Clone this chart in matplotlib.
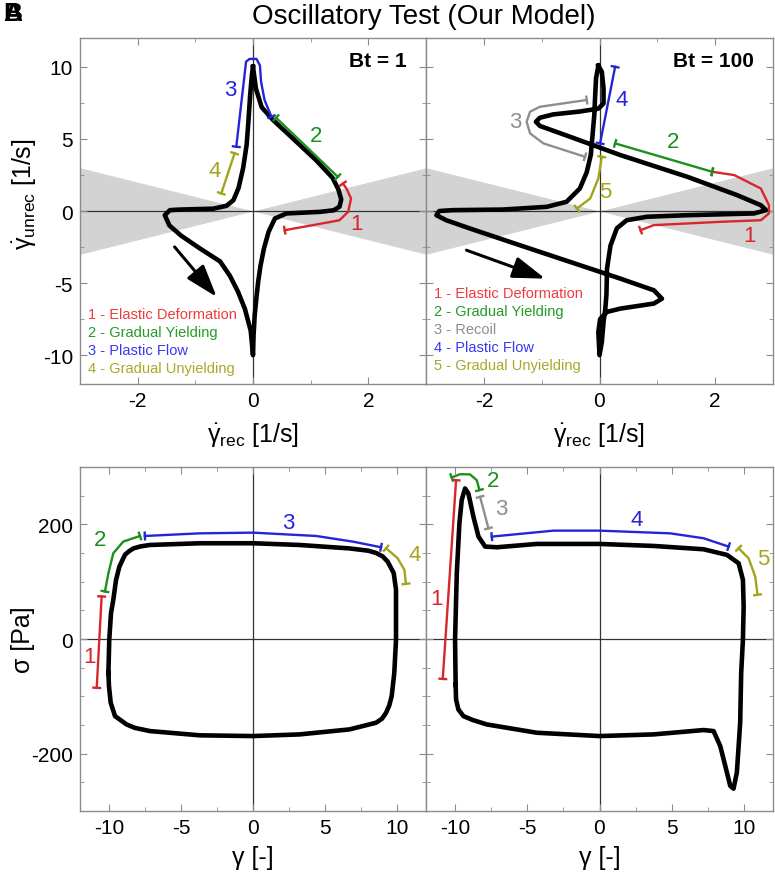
import numpy as np
import matplotlib.pyplot as plt
from matplotlib.ticker import MultipleLocator

plt.rcParams['font.family'] = ['Liberation Sans', 'DejaVu Sans']
plt.rcParams['mathtext.fontset'] = 'custom'
plt.rcParams['mathtext.rm'] = 'Liberation Sans'
plt.rcParams['mathtext.it'] = 'Liberation Sans:italic'
plt.rcParams['mathtext.bf'] = 'Liberation Sans:bold'
plt.rcParams['axes.unicode_minus'] = False

# ---- Lissajous curves (rate plane) ----
bt1_rec = [0.00, -0.02, -0.05, -0.08, -0.11, -0.17, -0.25, -0.34, -0.46, -0.69, -1.27, -1.44,
           -1.53, -1.45, -1.25, -0.92, -0.57, -0.40, -0.26, -0.14, -0.04, 0.00,
           0.01, 0.03, 0.06, 0.09, 0.13, 0.19, 0.27, 0.38, 0.58, 1.16, 1.40, 1.50,
           1.53, 1.48, 1.38, 1.10, 0.70, 0.35, 0.15, 0.05, 0.00]
bt1_unrec = [10.0, 9.4, 8.0, 6.2, 4.6, 3.0, 1.6, 0.75, 0.36, 0.16, 0.10, 0.06,
             -0.29, -1.0, -1.7, -2.6, -3.5, -4.5, -5.6, -6.8, -8.3, -10.0,
             -8.6, -7.2, -6.0, -4.9, -3.8, -2.6, -1.45, -0.52, -0.17, -0.06, 0.05, 0.3,
             0.8, 1.5, 2.3, 3.5, 5.0, 6.3, 7.2, 8.5, 10.0]

bt100_rec = [-0.02, -0.06, -0.075, -0.09, -0.12, -0.15, -0.22, -0.34, -0.57, -0.91, -1.67, -2.53, -2.77,
             -2.82, -2.65, -2.25, -1.38, -0.51, 0.36, 0.94, 1.08,
             0.94, 0.36, 0.13, 0.01, -0.02, 0.00,
             0.04, 0.07, 0.10, 0.12, 0.13, 0.19, 0.30, 0.47, 0.82, 1.52, 2.67, 2.88,
             2.79, 2.38, 1.52, 0.36, -0.51, -1.03, -1.10,
             -1.03, -0.80, -0.34, -0.02, 0.07, 0.07, 0.04, -0.02]
bt100_unrec = [10.08, 9.2, 8.0, 6.65, 5.27, 3.9, 2.7, 1.56, 0.64, 0.29, 0.10, 0.06, 0.0,
               -0.29, -0.64, -1.2, -2.37, -3.53, -4.69, -5.5, -6.08,
               -6.42, -6.77, -7.0, -7.5, -8.4, -10.0,
               -9.1, -7.7, -6.8, -5.8, -4.0, -2.4, -1.2, -0.64, -0.4, -0.29, -0.17, 0.06,
               0.4, 1.1, 2.37, 3.88, 5.15, 5.9, 6.19,
               6.47, 6.7, 6.9, 7.1, 7.46, 8.5, 9.66, 10.08]

# ---- stress-strain loops ----
bt1_strain = [-10.03, -9.97, -9.85, -9.69, -9.50, -9.27, -9.05, -8.88, -8.60, -8.30, -7.80, -7.15, -3.69, 0.0,
              3.23, 6.69, 8.00, 8.54, 9.00, 9.34, 9.76, 9.92, 9.92, 9.80, 9.62, 9.45, 9.23, 8.95, 8.54,
              6.69, 3.23, 0.0, -3.69, -7.15, -8.20, -8.77, -9.57, -9.87, -9.99, -10.03]
bt1_stress = [-59.1, -1.2, 45.2, 68.4, 103, 126, 138, 147, 153, 158, 161.5, 164, 167, 167,
              164, 158, 154, 150, 144, 135, 115, 86, -1.2, -59.1, -99.7, -116, -128.7, -139, -146,
              -157.7, -166.4, -169.3, -168, -160.6, -155, -149, -134.5, -111.3, -82.3, -59.1]

bt100_strain = [-9.95, -9.99, -9.87, -9.69, -9.53, -9.30, -9.07, -8.72, -8.37, -7.91, -7.10, -4.34, 0.0,
                3.74, 7.20, 8.81, 9.62, 9.92, 9.97, 9.92, 9.80, 9.73, 9.50, 9.27,
                9.04, 8.70, 8.35, 7.89, 7.20, 3.74, 0.0, -4.34, -7.80, -8.80, -9.41, -9.76, -9.92, -9.95]
bt100_stress = [-80, -1.2, 114.8, 201.7, 242.3, 262.6, 254, 213.3, 178.6, 161.2, 160, 165.8, 165.8,
                162.3, 156.5, 146.7, 132.2, 103.2, 56.8, -1.2, -59, -146, -233, -261,
                -256, -221.4, -186.7, -160.6, -158.8, -166.4, -169.3, -163.5, -149, -141, -134.5, -122.9, -105.5, -80]

# stage brackets: (x list, y list, label, label x, label y, colour key)
bt1_rate_marks = [
    ([0.55, 1.04, 1.50, 1.65, 1.70, 1.62, 1.56], [-1.33, -0.98, -0.64, -0.06, 0.87, 1.56, 1.90], '1', 1.79, -0.87, 'r'),
    ([0.40, 1.47], [6.47, 2.37], '2', 1.10, 5.27, 'g'),
    ([-0.29, -0.12, -0.06, 0.06, 0.12, 0.14, 0.20, 0.32], [4.46, 10.36, 10.55, 10.55, 10.1, 8.97, 7.7, 6.54], '3', -0.39, 8.4, 'b'),
    ([-0.32, -0.55], [4.0, 1.22], '4', -0.66, 2.84, 'y'),
]
bt100_rate_marks = [
    ([0.71, 0.94, 2.09, 2.79, 2.93, 2.93, 2.79, 2.33, 1.95], [-1.33, -0.98, -0.75, -0.64, -0.17, 0.4, 1.56, 2.49, 2.72], '1', 2.59, -1.68, 'r'),
    ([0.27, 1.95], [4.69, 2.72], '2', 1.28, 4.8, 'g'),
    ([-0.22, -1.03, -1.20, -1.26, -1.20, -0.97, -0.25], [7.7, 7.23, 6.89, 6.19, 5.38, 4.69, 3.76], '3', -1.46, 6.19, 'k'),
    ([0.01, 0.27], [4.69, 10.0], '4', 0.39, 7.7, 'b'),
    ([0.04, -0.02, -0.16, -0.39], [3.76, 2.26, 0.87, 0.17], '5', 0.10, 1.33, 'y'),
]
bt1_stress_marks = [
    ([-10.50, -10.84], [74.2, -85.2], '1', -11.35, -30, 'r'),
    ([-10.27, -10.03, -9.69, -9.0, -7.84], [82.9, 114.8, 149.6, 169.9, 179.7], '2', -10.61, 172.8, 'g'),
    ([-7.50, -3.69, 0.0, 4.38, 6.92, 8.88], [179.7, 184.3, 185.5, 179.7, 169.9, 160], '3', 2.42, 203, 'b'),
    ([9.23, 10.03, 10.50, 10.61], [158.3, 140.9, 120.6, 96.2], '4', 11.19, 146.7, 'y'),
]
bt100_stress_marks = [
    ([-10.84, -9.92], [-69.6, 277], '1', -11.26, 71.3, 'r'),
    ([-10.22, -9.64, -8.95, -8.49, -8.30], [281.7, 287.5, 287, 277, 259.7], '2', -7.34, 276, 'g'),
    ([-8.26, -7.68], [248, 193], '3', -6.76, 227.8, 'k'),
    ([-7.45, -3.18, 0.0, 4.89, 7.20, 8.93], [178.6, 189, 189, 184.3, 175.7, 161.2], '4', 2.58, 208.7, 'b'),
    ([9.62, 10.31, 10.77, 10.93], [158.3, 140.9, 109, 77.1], '5', 11.35, 140.9, 'y'),
]

legend_bt1 = [('1 - Elastic Deformation', 'r'), ('2 - Gradual Yielding', 'g'),
              ('3 - Plastic Flow', 'b'), ('4 - Gradual Unyielding', 'y')]
legend_bt100 = [('1 - Elastic Deformation', 'r'), ('2 - Gradual Yielding', 'g'), ('3 - Recoil', 'k'),
                ('4 - Plastic Flow', 'b'), ('5 - Gradual Unyielding', 'y')]

cone_x = [-3, 0, 3]

mark_col = {'r': '#d8262b', 'g': '#1c8f1c', 'b': '#2424d8', 'y': '#a3a31c', 'k': '#8e8e8e'}
text_col = {'r': '#ef3b3b', 'g': '#259a25', 'b': '#3838f2', 'y': '#a8a82a', 'k': '#8e8e8e'}

fig = plt.figure(figsize=(7.75, 8.79), dpi=100)
W, H = 775.0, 879.0
ax_tl = fig.add_axes([80 / W, 1 - 385 / H, 346 / W, 346 / H])
ax_tr = fig.add_axes([426 / W, 1 - 385 / H, 347 / W, 346 / H])
ax_bl = fig.add_axes([80 / W, 1 - 812 / H, 346 / W, 344 / H])
ax_br = fig.add_axes([426 / W, 1 - 812 / H, 347 / W, 344 / H])


def style(ax, xmaj, xmin, ymaj, ymin):
    for s in ax.spines.values():
        s.set_color('#8c8c8c')
        s.set_linewidth(1.0)
    ax.xaxis.set_major_locator(MultipleLocator(xmaj))
    ax.xaxis.set_minor_locator(MultipleLocator(xmin))
    ax.yaxis.set_major_locator(MultipleLocator(ymaj))
    ax.yaxis.set_minor_locator(MultipleLocator(ymin))
    ax.tick_params(which='both', direction='in', top=True, right=True, color='#8c8c8c',
                   labelsize=15, pad=5)
    ax.tick_params(which='major', length=5)
    ax.tick_params(which='minor', length=3)
    ax.axhline(0, color='#333333', lw=0.9, zorder=1)
    ax.axvline(0, color='#333333', lw=0.9, zorder=1)


def bracket(ax, xs, ys, color, half=4.5):
    ax.plot(xs, ys, color=color, lw=1.7, zorder=4, solid_joinstyle='round')
    pts = ax.transData.transform(np.column_stack([xs, ys]))
    inv = ax.transData.inverted()
    for i, j in [(0, 1), (-1, -2)]:
        p = pts[i]
        d = pts[j] - p
        d = d / np.hypot(d[0], d[1])
        n = np.array([-d[1], d[0]]) * half
        seg = inv.transform(np.array([p - n, p + n]))
        ax.plot(seg[:, 0], seg[:, 1], color=color, lw=1.7, zorder=4, solid_capstyle='butt')


rate_label = r'$\dot{\mathrm{\gamma}}_{\mathrm{%s}}$ [1/s]'

for ax, xs, ys, marks, leg, bt, arrow, legy in [
        (ax_tl, bt1_rec, bt1_unrec, bt1_rate_marks, legend_bt1, 'Bt = 1',
         ((-1.36, -2.49), (-0.63, -5.96)), -7.12),
        (ax_tr, bt100_rec, bt100_unrec, bt100_rate_marks, legend_bt100, 'Bt = 100',
         ((-2.30, -2.72), (-0.94, -4.69)), -5.66)]:
    ax.set_xlim(-3, 3)
    ax.set_ylim(-12, 12)
    style(ax, 2, 1, 5, 2.5)
    cx = np.array(cone_x, dtype=float)
    ax.fill_between(cx, -np.abs(cx), np.abs(cx), color='#d3d3d3', lw=0, zorder=0)
    ax.plot(xs, ys, color='black', lw=3.3, zorder=3, solid_joinstyle='round')
    for mx, my, lab, lx, ly, c in marks:
        bracket(ax, mx, my, mark_col[c])
        ax.text(lx, ly, lab, color=mark_col[c], fontsize=16, ha='center', va='center', zorder=5)
    for k, (t, c) in enumerate(leg):
        ax.text(-2.86, legy - 1.26 * k, t, color=text_col[c], fontsize=10.5, va='center', ha='left')
    ax.text(0.945, 0.935, bt, transform=ax.transAxes, fontsize=15, fontweight='bold',
            ha='right', va='center')
    ax.annotate('', xy=arrow[1], xytext=arrow[0],
                arrowprops=dict(arrowstyle='-|>,head_length=0.9,head_width=0.3',
                                mutation_scale=22, lw=2.2, color='black', shrinkA=0, shrinkB=0),
                zorder=4)
    ax.set_xlabel(rate_label % 'rec', fontsize=18, labelpad=7)

ax_tl.set_ylabel(rate_label % 'unrec', fontsize=18)
ax_tl.yaxis.set_label_coords(-0.12, 0.55)
ax_tr.tick_params(labelleft=False)

for ax, xs, ys, marks in [(ax_bl, bt1_strain, bt1_stress, bt1_stress_marks),
                          (ax_br, bt100_strain, bt100_stress, bt100_stress_marks)]:
    ax.set_xlim(-12, 12)
    ax.set_ylim(-300, 300)
    style(ax, 5, 2.5, 200, 50)
    ax.plot(xs, ys, color='black', lw=3.3, zorder=3, solid_joinstyle='round')
    for mx, my, lab, lx, ly, c in marks:
        bracket(ax, mx, my, mark_col[c])
        ax.text(lx, ly, lab, color=mark_col[c], fontsize=16, ha='center', va='center', zorder=5)
    ax.set_xlabel('γ [-]', fontsize=18, labelpad=6)

ax_bl.set_ylabel('σ [Pa]', fontsize=18)
ax_bl.yaxis.set_label_coords(-0.13, 0.5)
ax_br.tick_params(labelleft=False)

fig.text(424 / W, 1 - 17 / H, 'Oscillatory Test (Our Model)', fontsize=20, ha='center', va='center')
fig.text(13 / W, 1 - 14 / H, 'B', fontsize=19, fontweight='bold', ha='center', va='center')
fig.text(13 / W, 1 - 14 / H, 'A', fontsize=19, fontweight='bold', ha='center', va='center')

fig.savefig('out.png', dpi=100)
